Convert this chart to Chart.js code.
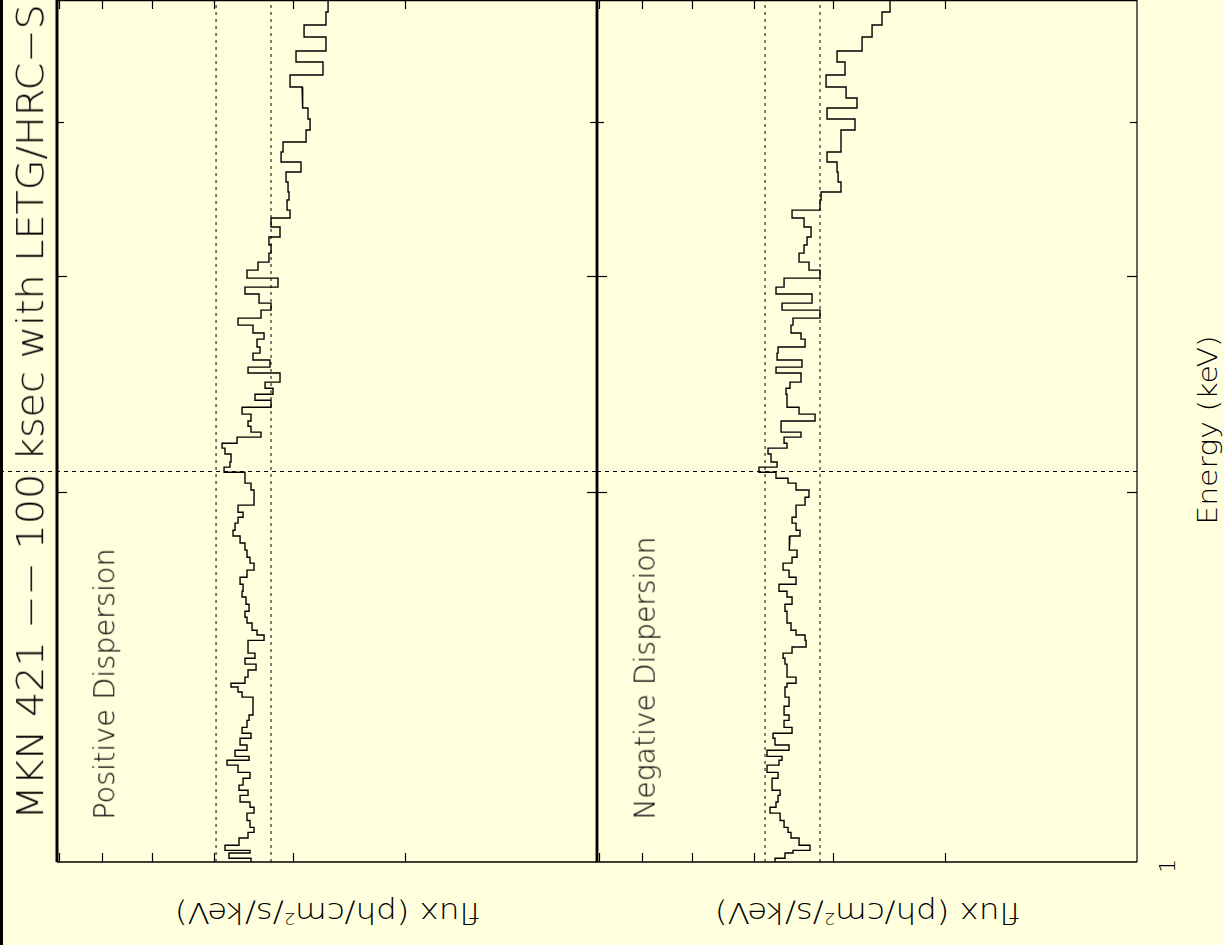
<!DOCTYPE html>
<html lang="en">
<head>
<meta charset="UTF-8">
<title>MKN 421 LETG/HRC-S</title>
<script src="https://cdn.jsdelivr.net/npm/chart.js"></script>
<style>
  body {
    margin: 0;
    width: 1224px;
    height: 945px;
    overflow: hidden;
    position: relative;
    background: #ffffdd;
    font-family: "DejaVu Sans Light", "DejaVu Sans ExtraLight", Roboto, sans-serif;
  }
  .strip { position: absolute; left: 0; top: 0; width: 3px; height: 945px; background: #000; }
  canvas { position: absolute; }
  .lbl { position: absolute; white-space: nowrap; color: #000; font-weight: 200; line-height: 1; }
  .lbl sup { font-size: 0.55em; }
</style>
</head>
<body>
<div class="strip"></div>
<canvas id="posChart" width="607" height="881" style="left:0;top:-6px"></canvas>
<canvas id="negChart" width="560" height="881" style="left:587px;top:-6px"></canvas>

<div class="lbl" data-cx="30" data-cy="412" data-rot="-90" data-len="815" style="font-size:38px">MKN 421 −− 100 ksec with LETG/HRC−S</div>
<div class="lbl" data-cx="105" data-cy="684" data-rot="-90" data-len="272" style="font-size:28px">Positive Dispersion</div>
<div class="lbl" data-cx="645" data-cy="678" data-rot="-90" data-len="283" style="font-size:28px">Negative Dispersion</div>
<div class="lbl" data-cx="327" data-cy="912" data-rot="180" data-len="305" style="font-size:28px">flux (ph/cm<sup>2</sup>/s/keV)</div>
<div class="lbl" data-cx="867" data-cy="912" data-rot="180" data-len="305" style="font-size:28px">flux (ph/cm<sup>2</sup>/s/keV)</div>
<div class="lbl" data-cx="1208" data-cy="430" data-rot="-90" data-len="190" style="font-size:26px">Energy (keV)</div>
<div class="lbl" data-cx="1168" data-cy="866" data-rot="-90" style="font-size:22px">1</div>

<script>
// bin edges in energy (keV), top of the plot to the bottom
const energyEdges = [
  0.5030, 0.4918, 0.4800, 0.4693, 0.4572, 0.4478, 0.4370, 0.4273, 0.4186, 0.4108,
  0.4024, 0.3942, 0.3855, 0.3783, 0.3713, 0.3644, 0.3576, 0.3510, 0.3458, 0.3393,
  0.3343, 0.3287, 0.3226, 0.3178, 0.3130, 0.3078, 0.3032, 0.2987, 0.2937, 0.2899,
  0.2850, 0.2813, 0.2771, 0.2735, 0.2695, 0.2664, 0.2625, 0.2595, 0.2562, 0.2528,
  0.2500, 0.2458, 0.2430, 0.2403, 0.2376, 0.2345, 0.2315, 0.2285, 0.2263, 0.2238,
  0.2217, 0.2192, 0.2172, 0.2148, 0.2116, 0.2096, 0.2076,
  0.2053, 0.2034, 0.2008, 0.1981, 0.1952, 0.1926, 0.1908, 0.1887, 0.1862,
  0.1842, 0.1818, 0.1794, 0.1770, 0.1751, 0.1728, 0.1705, 0.1683, 0.1661, 0.1643,
  0.1621, 0.1600, 0.1582, 0.1565, 0.1544, 0.1530, 0.1515, 0.1496, 0.1479, 0.1465,
  0.1449, 0.1433, 0.1414, 0.1398, 0.1388, 0.1375, 0.1362, 0.1339, 0.1317, 0.1304,
  0.1287, 0.1273, 0.1261, 0.1245, 0.1233, 0.1219, 0.1210, 0.1199, 0.1183, 0.1170,
  0.1155, 0.1144, 0.1133, 0.1119, 0.1108, 0.1096, 0.1081, 0.1067, 0.1057, 0.1046,
  0.1032, 0.1022, 0.1017, 0.1007, 0.1000
];

// flux per bin, positive dispersion
const posFlux = [
  2.645, 2.665, 2.885, 2.665, 2.970, 2.694, 3.035, 2.906, 2.896, 2.844,
  2.823, 2.864, 3.113, 3.135, 2.917, 3.079, 3.057, 3.046, 3.068, 3.035,
  3.251, 3.147, 3.275, 3.251, 3.275, 3.408, 3.546, 3.170, 3.572, 3.395,
  3.251, 3.371, 3.663, 3.470, 3.334, 3.420, 3.383, 3.470, 3.263, 3.533,
  3.147, 3.322, 3.228, 3.445, 3.251, 3.610, 3.495, 3.533, 3.495, 3.371,
  3.676, 3.881, 3.840, 3.757, 3.771, 3.853,
  3.572, 3.572, 3.495, 3.457, 3.457, 3.663, 3.597, 3.663, 3.703, 3.730,
  3.636, 3.572, 3.546, 3.508, 3.457, 3.546, 3.636, 3.597, 3.610, 3.559,
  3.520, 3.572, 3.546, 3.482, 3.420, 3.334, 3.533, 3.533, 3.445, 3.572,
  3.432, 3.533, 3.572, 3.757, 3.663, 3.610, 3.470, 3.470, 3.520, 3.546,
  3.610, 3.495, 3.636, 3.546, 3.703, 3.520, 3.812, 3.663, 3.508, 3.597,
  3.650, 3.533, 3.636, 3.508, 3.457, 3.546, 3.508, 3.457, 3.533, 3.650,
  3.840, 3.508, 3.785, 3.495
];

// flux per bin, negative dispersion
const negFlux = [
  2.443, 2.515, 2.607, 2.703, 2.959, 2.875, 3.079, 2.864, 2.753, 3.068,
  2.773, 2.917, 2.917, 3.068, 2.959, 2.948, 2.917, 3.135, 3.147, 3.482,
  3.334, 3.251, 3.298, 3.334, 3.395, 3.275, 3.147, 3.584, 3.690, 3.239,
  3.610, 3.147, 3.470, 3.495, 3.371, 3.322, 3.663, 3.676, 3.359, 3.690,
  3.371, 3.508, 3.559, 3.546, 3.546, 3.395, 3.204, 3.623, 3.623, 3.371,
  3.584, 3.546, 3.798, 3.757, 3.676, 3.924,
  3.690, 3.533, 3.432, 3.275, 3.322, 3.432, 3.432, 3.482, 3.432, 3.383,
  3.508, 3.520, 3.420, 3.482, 3.597, 3.520, 3.432, 3.650, 3.546, 3.482,
  3.572, 3.546, 3.546, 3.495, 3.432, 3.322, 3.310, 3.482, 3.597, 3.572,
  3.546, 3.546, 3.432, 3.546, 3.572, 3.572, 3.520, 3.584, 3.520, 3.584,
  3.482, 3.730, 3.703, 3.520, 3.812, 3.610, 3.650, 3.812, 3.663, 3.743,
  3.743, 3.636, 3.663, 3.690, 3.771, 3.636, 3.584, 3.533, 3.495, 3.395,
  3.263, 3.470, 3.572, 3.703
];

const fluxTicks = [7, 6, 5, 4, 3, 2];
const energyTicks = [0.2, 0.3, 0.4];
const posLimits = [3.966, 3.251];   // dotted verticals
const negLimits = [3.839, 3.147];
const edgeEnergy = 0.208;           // dashed horizontal

const fluxMin = 1, fluxMax = 7.05;
const energyMin = 0.1, energyMax = 0.503;

const framePlugin = {
  id: 'frame',
  afterDatasetsDraw(chart, args, opts) {
    const ctx = chart.ctx;
    const { left, right, top, bottom } = chart.chartArea;
    const xs = chart.scales.x, ys = chart.scales.y;
    const line = (x1, y1, x2, y2, w) => {
      ctx.lineWidth = w;
      ctx.beginPath();
      ctx.moveTo(x1, y1);
      ctx.lineTo(x2, y2);
      ctx.stroke();
    };
    ctx.save();
    ctx.strokeStyle = '#000';

    // dashed line at the edge energy
    const ey = Math.round(ys.getPixelForValue(edgeEnergy)) + 0.5;
    ctx.setLineDash([4, 4]);
    line(opts.dashFrom != null ? opts.dashFrom : left, ey, right, ey, 1);
    ctx.setLineDash([]);

    // box
    line(left, top, left, bottom, opts.leftW);
    line(right, top, right, bottom, opts.rightW);
    line(left, top + 0.5, right, top + 0.5, 1.5);
    line(left, bottom, right, bottom, 1.5);

    // inward ticks
    fluxTicks.forEach(v => {
      const px = Math.round(xs.getPixelForValue(v)) + 0.5;
      line(px, bottom, px, bottom - 9, 1.2);
      line(px, top, px, top + 9, 1.2);
    });
    energyTicks.forEach(v => {
      const py = Math.round(ys.getPixelForValue(v)) + 0.5;
      const len = v === 0.4 ? 7 : 10;
      line(left, py, left + len, py, 1.2);
      line(right, py, right - len, py, 1.2);
    });
    ctx.restore();
  }
};

function makePanel(id, flux, limits, padding, frame) {
  const steps = [];
  flux.forEach((f, i) => {
    steps.push({ x: f, y: energyEdges[i] });
    steps.push({ x: f, y: energyEdges[i + 1] });
  });
  const datasets = [{
    data: steps,
    showLine: true,
    borderColor: '#000',
    borderWidth: 1.4,
    pointRadius: 0,
    borderJoinStyle: 'miter'
  }];
  limits.forEach(v => {
    datasets.push({
      data: [{ x: v, y: energyMin }, { x: v, y: energyMax }],
      showLine: true,
      borderColor: '#000',
      borderWidth: 1,
      borderDash: [3, 4],
      pointRadius: 0
    });
  });
  return new Chart(document.getElementById(id), {
    type: 'scatter',
    data: { datasets },
    options: {
      responsive: false,
      animation: false,
      devicePixelRatio: 1,
      layout: { padding },
      plugins: {
        legend: { display: false },
        tooltip: { enabled: false },
        frame
      },
      scales: {
        x: { type: 'logarithmic', reverse: true, min: fluxMin, max: fluxMax, display: false },
        y: { type: 'logarithmic', min: energyMin, max: energyMax, display: false }
      }
    },
    plugins: [framePlugin]
  });
}

makePanel('posChart', posFlux, posLimits,
  { left: 57, right: 10, top: 6, bottom: 13 },
  { leftW: 3, rightW: 2.5, dashFrom: 0 });
makePanel('negChart', negFlux, negLimits,
  { left: 10, right: 10, top: 6, bottom: 13 },
  { leftW: 2.5, rightW: 1.2 });

// rotated labels, stretched to the length they have in the plot
document.querySelectorAll('.lbl').forEach(el => {
  const w = el.offsetWidth, h = el.offsetHeight;
  const cx = +el.dataset.cx, cy = +el.dataset.cy;
  const s = el.dataset.len ? (+el.dataset.len / w) : 1;
  el.style.left = (cx - w / 2) + 'px';
  el.style.top = (cy - h / 2) + 'px';
  el.style.transform = 'rotate(' + el.dataset.rot + 'deg) scaleX(' + s.toFixed(3) + ')';
});
</script>
</body>
</html>
